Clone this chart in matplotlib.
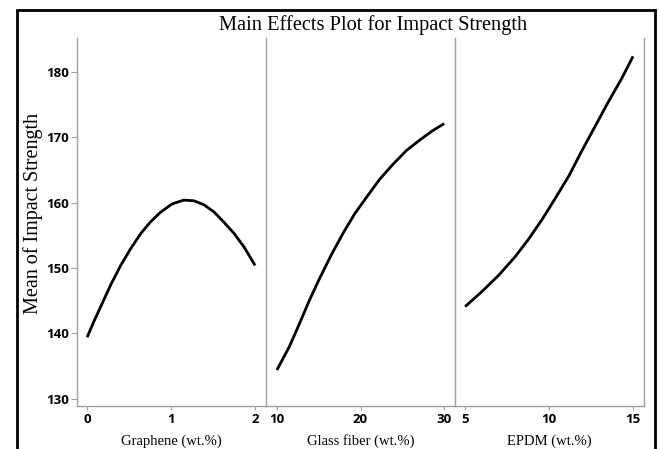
import matplotlib
matplotlib.use("Agg")
import matplotlib.pyplot as plt
from matplotlib.patches import Rectangle

# ---- data ----
title = "Main Effects Plot for Impact Strength"
ylabel = "Mean of Impact Strength"
factor_names = ["Graphene (wt.%)", "Glass fiber (wt.%)", "EPDM (wt.%)"]

graphene_x = [0.0, 0.08, 0.18, 0.28, 0.40, 0.52, 0.64, 0.75, 0.87, 1.01,
              1.15, 1.27, 1.39, 1.51, 1.63, 1.75, 1.87, 2.0]
graphene_y = [139.4, 141.8, 144.6, 147.4, 150.4, 153.0, 155.3, 157.0, 158.5, 159.8,
              160.4, 160.3, 159.7, 158.6, 157.0, 155.3, 153.2, 150.4]

glass_x = [10.0, 11.5, 12.7, 13.9, 15.1, 16.5, 17.9, 19.3, 20.7, 22.3,
           23.9, 25.5, 27.1, 28.6, 30.0]
glass_y = [134.4, 138.0, 141.5, 145.1, 148.4, 152.0, 155.3, 158.3, 160.8, 163.6,
           165.9, 168.0, 169.6, 171.0, 172.1]

epdm_x = [5.0, 6.0, 7.0, 8.0, 8.8, 9.6, 10.4, 11.2, 11.9, 12.7, 13.5, 14.3, 15.0]
epdm_y = [144.1, 146.4, 148.9, 151.8, 154.5, 157.5, 160.8, 164.2, 167.7, 171.5,
          175.3, 178.9, 182.4]

graphene_ticks = [0, 1, 2]
glass_ticks = [10, 20, 30]
epdm_ticks = [5, 10, 15]
y_ticks = [130, 140, 150, 160, 170, 180]

xs = [graphene_x, glass_x, epdm_x]
ys = [graphene_y, glass_y, epdm_y]
xticks = [graphene_ticks, glass_ticks, epdm_ticks]
xlims = [(-0.12, 2.13), (8.7, 31.3), (4.4, 15.65)]

W, H = 660, 449
fig = plt.figure(figsize=(W / 100, H / 100), dpi=100)

serif = "Liberation Serif"
tickfont = dict(family="Open Sans", weight="bold", size=9.5)
gray = "#a0a0a0"

left, right, top, bottom = 77, 644, 38, 406
pw = (right - left) / 3
for i in range(3):
    ax = fig.add_axes([(left + i * pw) / W, 1 - bottom / H, pw / W, (bottom - top) / H])
    ax.plot(xs[i], ys[i], color="black", lw=2.0, solid_capstyle="butt",
            solid_joinstyle="round")
    ax.set_xlim(*xlims[i])
    ax.set_ylim(128.9, 185.2)
    ax.set_xticks(xticks[i])
    ax.set_xticklabels([str(t) for t in xticks[i]], fontdict=tickfont)
    ax.spines["top"].set_visible(False)
    for s in ["left", "right", "bottom"]:
        ax.spines[s].set_color(gray)
        ax.spines[s].set_linewidth(1.0)
    if i > 0:
        ax.spines["left"].set_visible(False)
    ax.tick_params(axis="x", length=3, color=gray, pad=2)
    if i == 0:
        ax.set_yticks(y_ticks)
        ax.set_yticklabels([str(t) for t in y_ticks], fontdict=tickfont)
        ax.tick_params(axis="y", length=4, color=gray, pad=2)
    else:
        ax.set_yticks([])
    ax.set_xlabel(factor_names[i], family=serif, fontsize=10.5, labelpad=6)
    ax.patch.set_alpha(0)

fig.text(373 / W, 1 - 25 / H, title, family=serif, fontsize=14.7, ha="center", va="center")
fig.text(33 / W, 1 - 213 / H, ylabel, family=serif, fontsize=14.5, rotation=90,
         ha="center", va="center")

frame = Rectangle((17 / W, -0.05), (655 - 17) / W, 1 - 10 / H + 0.05,
                  transform=fig.transFigure, fill=False, edgecolor="black", lw=2.0)
fig.patches.append(frame)

fig.savefig("out.png", dpi=100)
